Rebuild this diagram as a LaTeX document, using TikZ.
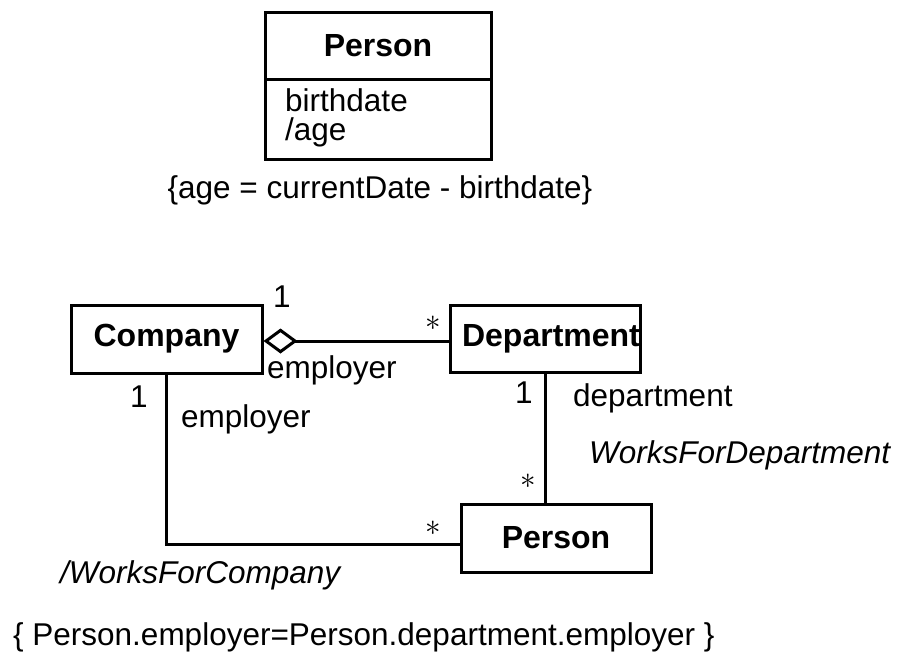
\RequirePackage{fix-cm}
\documentclass[tikz,border=0pt]{standalone}
\usepackage{fontspec}
\setmainfont{Liberation Sans}
\usetikzlibrary{arrows.meta}

\tikzset{
  txt/.style={inner sep=0pt, font=\fontsize{31.5}{29}\selectfont},
  classbox/.style={draw, line width=3pt, inner sep=0pt, font=\fontsize{32}{38}\selectfont\bfseries},
  conn/.style={line width=3pt},
  aggr/.style={conn, {Diamond[open, length=34pt, width=25pt, line width=3pt]}-},
  mult/.style={txt},
  astmark/.style={inner sep=0pt, font=\fontsize{31}{37}\selectfont},
}

\begin{document}
\begin{tikzpicture}[x=1pt, y=-1pt]
  \useasboundingbox (0,0) rectangle (897,651);

  % class with derived attribute
  \node[classbox, minimum width=226pt, minimum height=67pt] (ptitle) at (378,45.5) {Person};
  \node[classbox, minimum width=226pt, minimum height=80pt] (pattr) at (378,119) {};
  \node[txt, align=left, anchor=base west] (pattrs) at (285,140) {birthdate\\/age};
  \node[txt, anchor=base] (cage) at (380,198) {\{age = currentDate - birthdate\}};

  % classes of the derived association
  \node[classbox, minimum width=191pt, minimum height=68pt] (company) at (166.5,339) {Company};
  \node[classbox, minimum width=190pt, minimum height=67pt] (dept) at (545,339) {\hspace*{12pt}Department};
  \node[classbox, minimum width=190pt, minimum height=68pt] (person) at (556,538) {Person};

  % associations
  \draw[aggr] ([yshift=-2pt]company.east) -- ([yshift=-2pt]dept.west);
  \draw[conn] (company.south) |- ([yshift=-6pt]person.west);
  \draw[conn] (dept.south) -- (dept.south |- person.north);

  % ends: multiplicities and role names
  \node[mult, anchor=base] (m1) at (282,307) {1};
  \node[txt, anchor=base west] (r1) at (267,378) {employer};
  \node[astmark] (s1) at (433,323) {$\ast$};
  \node[mult, anchor=base] (m2) at (139,407) {1};
  \node[txt, anchor=base west] (r2) at (181,427) {employer};
  \node[mult, anchor=base] (m3) at (524,403) {1};
  \node[txt, anchor=base west] (r3) at (573,406) {department};
  \node[txt, anchor=base west] (a1) at (589,463) {\itshape WorksForDepartment};
  \node[astmark] (s2) at (528,481) {$\ast$};
  \node[astmark] (s3) at (433,528) {$\ast$};
  \node[txt, anchor=base west] (a2) at (60,583) {\itshape /WorksForCompany};

  % constraint
  \node[txt, anchor=base west] (cemp) at (13,645) {\{ Person.employer=Person.department.employer \}};
\end{tikzpicture}
\end{document}
